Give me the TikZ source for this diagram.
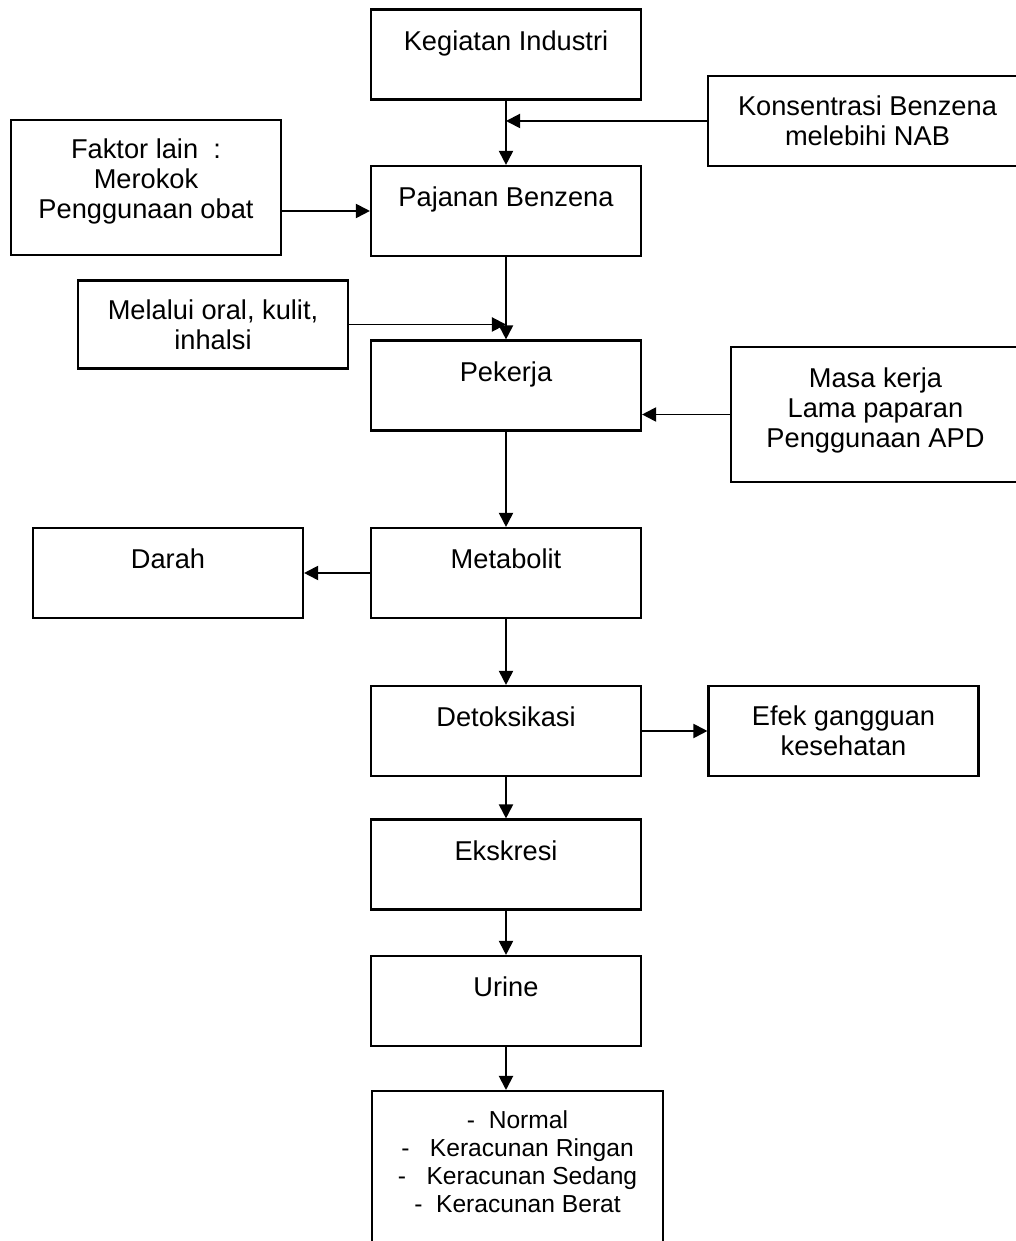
\documentclass[tikz,border=0pt]{standalone}
\usepackage{fontspec}
\setmainfont{Liberation Sans}
\usetikzlibrary{arrows.meta}

\begin{document}
\begin{tikzpicture}[
        font=\fontsize{15.5}{17}\selectfont,
        kotak/.style={draw, line width=1.2pt, align=center, inner sep=0pt, minimum width=5.4cm, minimum height=1.8cm},
        atas/.style={text depth=16pt},
        panah/.style={line width=1.1pt, -{Triangle[length=8pt,width=8pt]}}
    ]
        \useasboundingbox (0, 0) rectangle (20.32, 24.82);

        \node[kotak, atas] (keg) at (10.12, 23.73) {Kegiatan Industri};
        \node[kotak, minimum width=6.38cm] (kons) at (17.35, 22.40) {Konsentrasi Benzena\\melebihi NAB};
        \node[kotak, minimum height=2.7cm, text depth=10pt] (fak) at (2.92, 21.07) {Faktor lain~~:\\Merokok\\Penggunaan obat};
        \node[kotak, atas] (paj) at (10.12, 20.60) {Pajanan Benzena};
        \node[kotak, minimum height=1.76cm] (mel) at (4.26, 18.33) {Melalui oral, kulit,\\inhalsi};
        \node[kotak, atas] (pek) at (10.12, 17.11) {Pekerja};
        \node[kotak, minimum width=5.78cm, minimum height=2.7cm, text depth=8pt] (masa) at (17.51, 16.53) {Masa kerja\\Lama paparan\\Penggunaan APD};
        \node[kotak, atas] (darah) at (3.36, 13.36) {Darah};
        \node[kotak, atas] (met) at (10.12, 13.36) {Metabolit};
        \node[kotak, atas] (det) at (10.12, 10.20) {Detoksikasi};
        \node[kotak] (efek) at (16.87, 10.20) {Efek gangguan\\kesehatan};
        \node[kotak, atas] (eks) at (10.12, 7.53) {Ekskresi};
        \node[kotak, atas] (uri) at (10.12, 4.80) {Urine};
        \node[kotak, anchor=north, minimum width=5.82cm, minimum height=0pt, inner ysep=11pt, text depth=3cm,
            font=\fontsize{14}{16}\selectfont] (hasil) at (10.35, 3.02)
            {-~~Normal\\-~~~Keracunan Ringan\\-~~~Keracunan Sedang\\-~~Keracunan Berat};

        \draw[panah] (keg.south) -- (paj.north);
        \draw[panah] (kons.west) -- (kons.west -| keg.south);
        \draw[panah] (fak.east |- paj.west) -- (paj.west);
        \draw[panah] (paj.south) -- (pek.north);
        \draw[panah] (mel.east) -- (mel.east -| paj.south);
        \draw[panah] (masa.west) -- (masa.west -| pek.east);
        \draw[panah] (pek.south) -- (met.north);
        \draw[panah] (met.west) -- (darah.east);
        \draw[panah] (met.south) -- (det.north);
        \draw[panah] (det.east) -- (efek.west);
        \draw[panah] (det.south) -- (eks.north);
        \draw[panah] (eks.south) -- (uri.north);
        \draw[panah] (uri.south) -- (uri.south |- hasil.north);

    \end{tikzpicture}
\end{document}
